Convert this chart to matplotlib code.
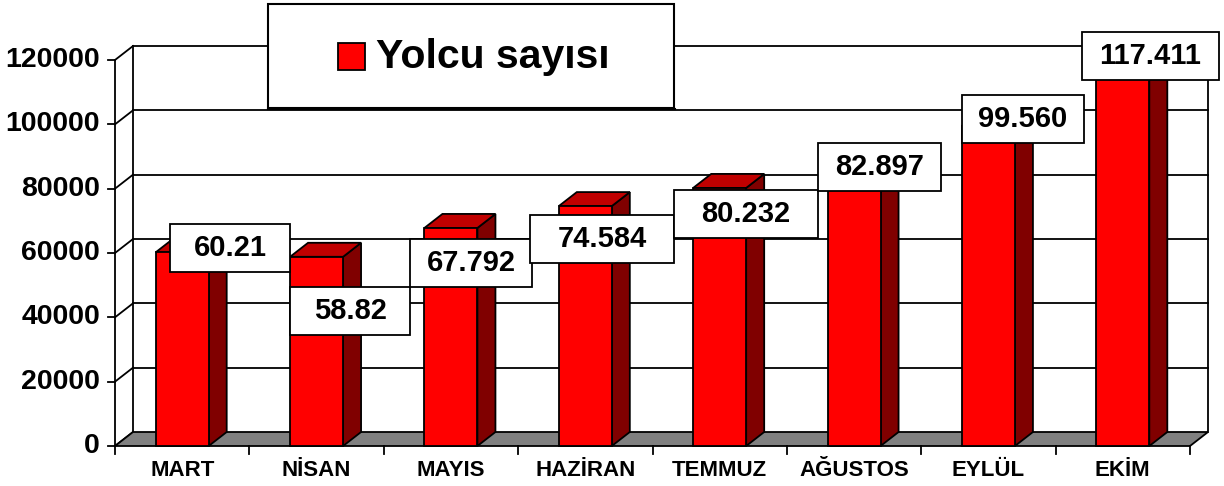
import matplotlib
matplotlib.use("Agg")
import matplotlib.pyplot as plt
from matplotlib.patches import Polygon, Rectangle

# ---------------- data ----------------
categories = ["MART", "NİSAN", "MAYIS", "HAZİRAN", "TEMMUZ", "AĞUSTOS", "EYLÜL", "EKİM"]
values = [60210, 58820, 67792, 74584, 80232, 82897, 99560, 117411]
value_labels = ["60.21", "58.82", "67.792", "74.584", "80.232", "82.897", "99.560", "117.411"]
yticks = [0, 20000, 40000, 60000, 80000, 100000, 120000]
series_name = "Yolcu sayısı"

# ---------------- layout ----------------
label_x = [0.356, 1.249, 2.149, 3.124, 4.196, 5.189, 6.257, 7.206]
label_y = [61554, 41969, 56891, 64352, 71969, 86736, 101658, 121243]
label_w_px = [120, 120, 122, 144, 144, 123, 122, 137]
label_h_px = 48

W, H, DPI = 1224, 486, 100
FONT = "Liberation Sans"
plt.rcParams['font.family'] = [FONT, 'DejaVu Sans']

fig = plt.figure(figsize=(W / DPI, H / DPI), dpi=DPI)
fig.patch.set_facecolor("white")
pl, pr, pb, pt = 115, 1190, 446, 60
ax = fig.add_axes([pl / W, 1 - pb / H, (pr - pl) / W, (pb - pt) / H])
n = len(categories)
ymax = yticks[-1]
ax.set_xlim(-0.5, n - 0.5)
ax.set_ylim(0, ymax)
ax.axis("off")

ux = n / (pr - pl)          # data units per pixel (x)
uy = ymax / (pb - pt)       # data units per pixel (y)
dx, dy = 18 * ux, 14 * uy   # depth offset
lw = 1.3
x0, x1 = -0.5, n - 0.5

# back wall gridlines
for v in yticks[1:]:
    ax.plot([x0 + dx, x1 + dx], [v + dy, v + dy], color="black", lw=lw, clip_on=False, zorder=1)
# back wall vertical edges
ax.plot([x0 + dx, x0 + dx], [dy, ymax + dy], color="black", lw=lw, clip_on=False, zorder=1)
ax.plot([x1 + dx, x1 + dx], [dy, ymax + dy], color="black", lw=lw, clip_on=False, zorder=1)
# left wall
ax.plot([x0, x0], [0, ymax], color="black", lw=lw, clip_on=False, zorder=2)
for v in yticks:
    ax.plot([x0, x0 + dx], [v, v + dy], color="black", lw=lw, clip_on=False, zorder=2)
    ax.plot([x0 - 7 * ux, x0], [v, v], color="black", lw=lw, clip_on=False, zorder=2)
    ax.text(x0 - 15 * ux, v, f"{v}", ha="right", va="center", fontsize=20.5,
            fontweight="bold", family=FONT, clip_on=False)

# floor
floor = Polygon([(x0, 0), (x1, 0), (x1 + dx, dy), (x0 + dx, dy)], closed=True,
                facecolor="#808080", edgecolor="black", lw=lw, clip_on=False, zorder=3)
ax.add_patch(floor)
for k in range(n + 1):
    ax.plot([x0 + k, x0 + k], [0, -8 * uy], color="black", lw=lw, clip_on=False, zorder=3)

# bars
bw = 53 * ux
for i, v in enumerate(values):
    l, r = i - bw / 2, i + bw / 2
    side = Polygon([(r, 0), (r + dx, dy), (r + dx, v + dy), (r, v)], closed=True,
                   facecolor="#800000", edgecolor="black", lw=lw, clip_on=False, zorder=4)
    top = Polygon([(l, v), (r, v), (r + dx, v + dy), (l + dx, v + dy)], closed=True,
                  facecolor="#C00000", edgecolor="black", lw=lw, clip_on=False, zorder=4)
    front = Rectangle((l, 0), bw, v, facecolor="#FF0000", edgecolor="black", lw=lw,
                      clip_on=False, zorder=5)
    for p in (side, top, front):
        ax.add_patch(p)
    ax.text(i, -24.5 * uy, categories[i], ha="center", va="center", fontsize=16,
            fontweight="bold", family=FONT, clip_on=False)

# data labels
for i, txt in enumerate(value_labels):
    w = label_w_px[i] * ux
    h = label_h_px * uy
    ax.add_patch(Rectangle((label_x[i] - w / 2, label_y[i] - h / 2), w, h, facecolor="white",
                           edgecolor="black", lw=lw, clip_on=False, zorder=6))
    ax.text(label_x[i], label_y[i], txt, ha="center", va="center", fontsize=21,
            fontweight="bold", family=FONT, clip_on=False, zorder=7)

# legend
def fx(px):
    return px / W

def fy(py):
    return 1 - py / H

leg = Rectangle((fx(268), fy(108)), fx(674) - fx(268), fy(4) - fy(108), transform=fig.transFigure,
                facecolor="white", edgecolor="black", lw=1.5, zorder=8)
fig.add_artist(leg)
fig.add_artist(plt.Line2D([fx(268), fx(675)], [fy(109), fy(109)], transform=fig.transFigure,
                          color="black", lw=1.5, zorder=9))
sq = Rectangle((fx(338), fy(70)), fx(365) - fx(338), fy(43) - fy(70), transform=fig.transFigure,
               facecolor="#FF0000", edgecolor="black", lw=1.3, zorder=9)
fig.add_artist(sq)
fig.text(fx(376), fy(57), series_name, ha="left", va="center", fontsize=29.5, fontweight="bold",
         family=FONT, zorder=10)

fig.savefig("out.png", dpi=DPI)
